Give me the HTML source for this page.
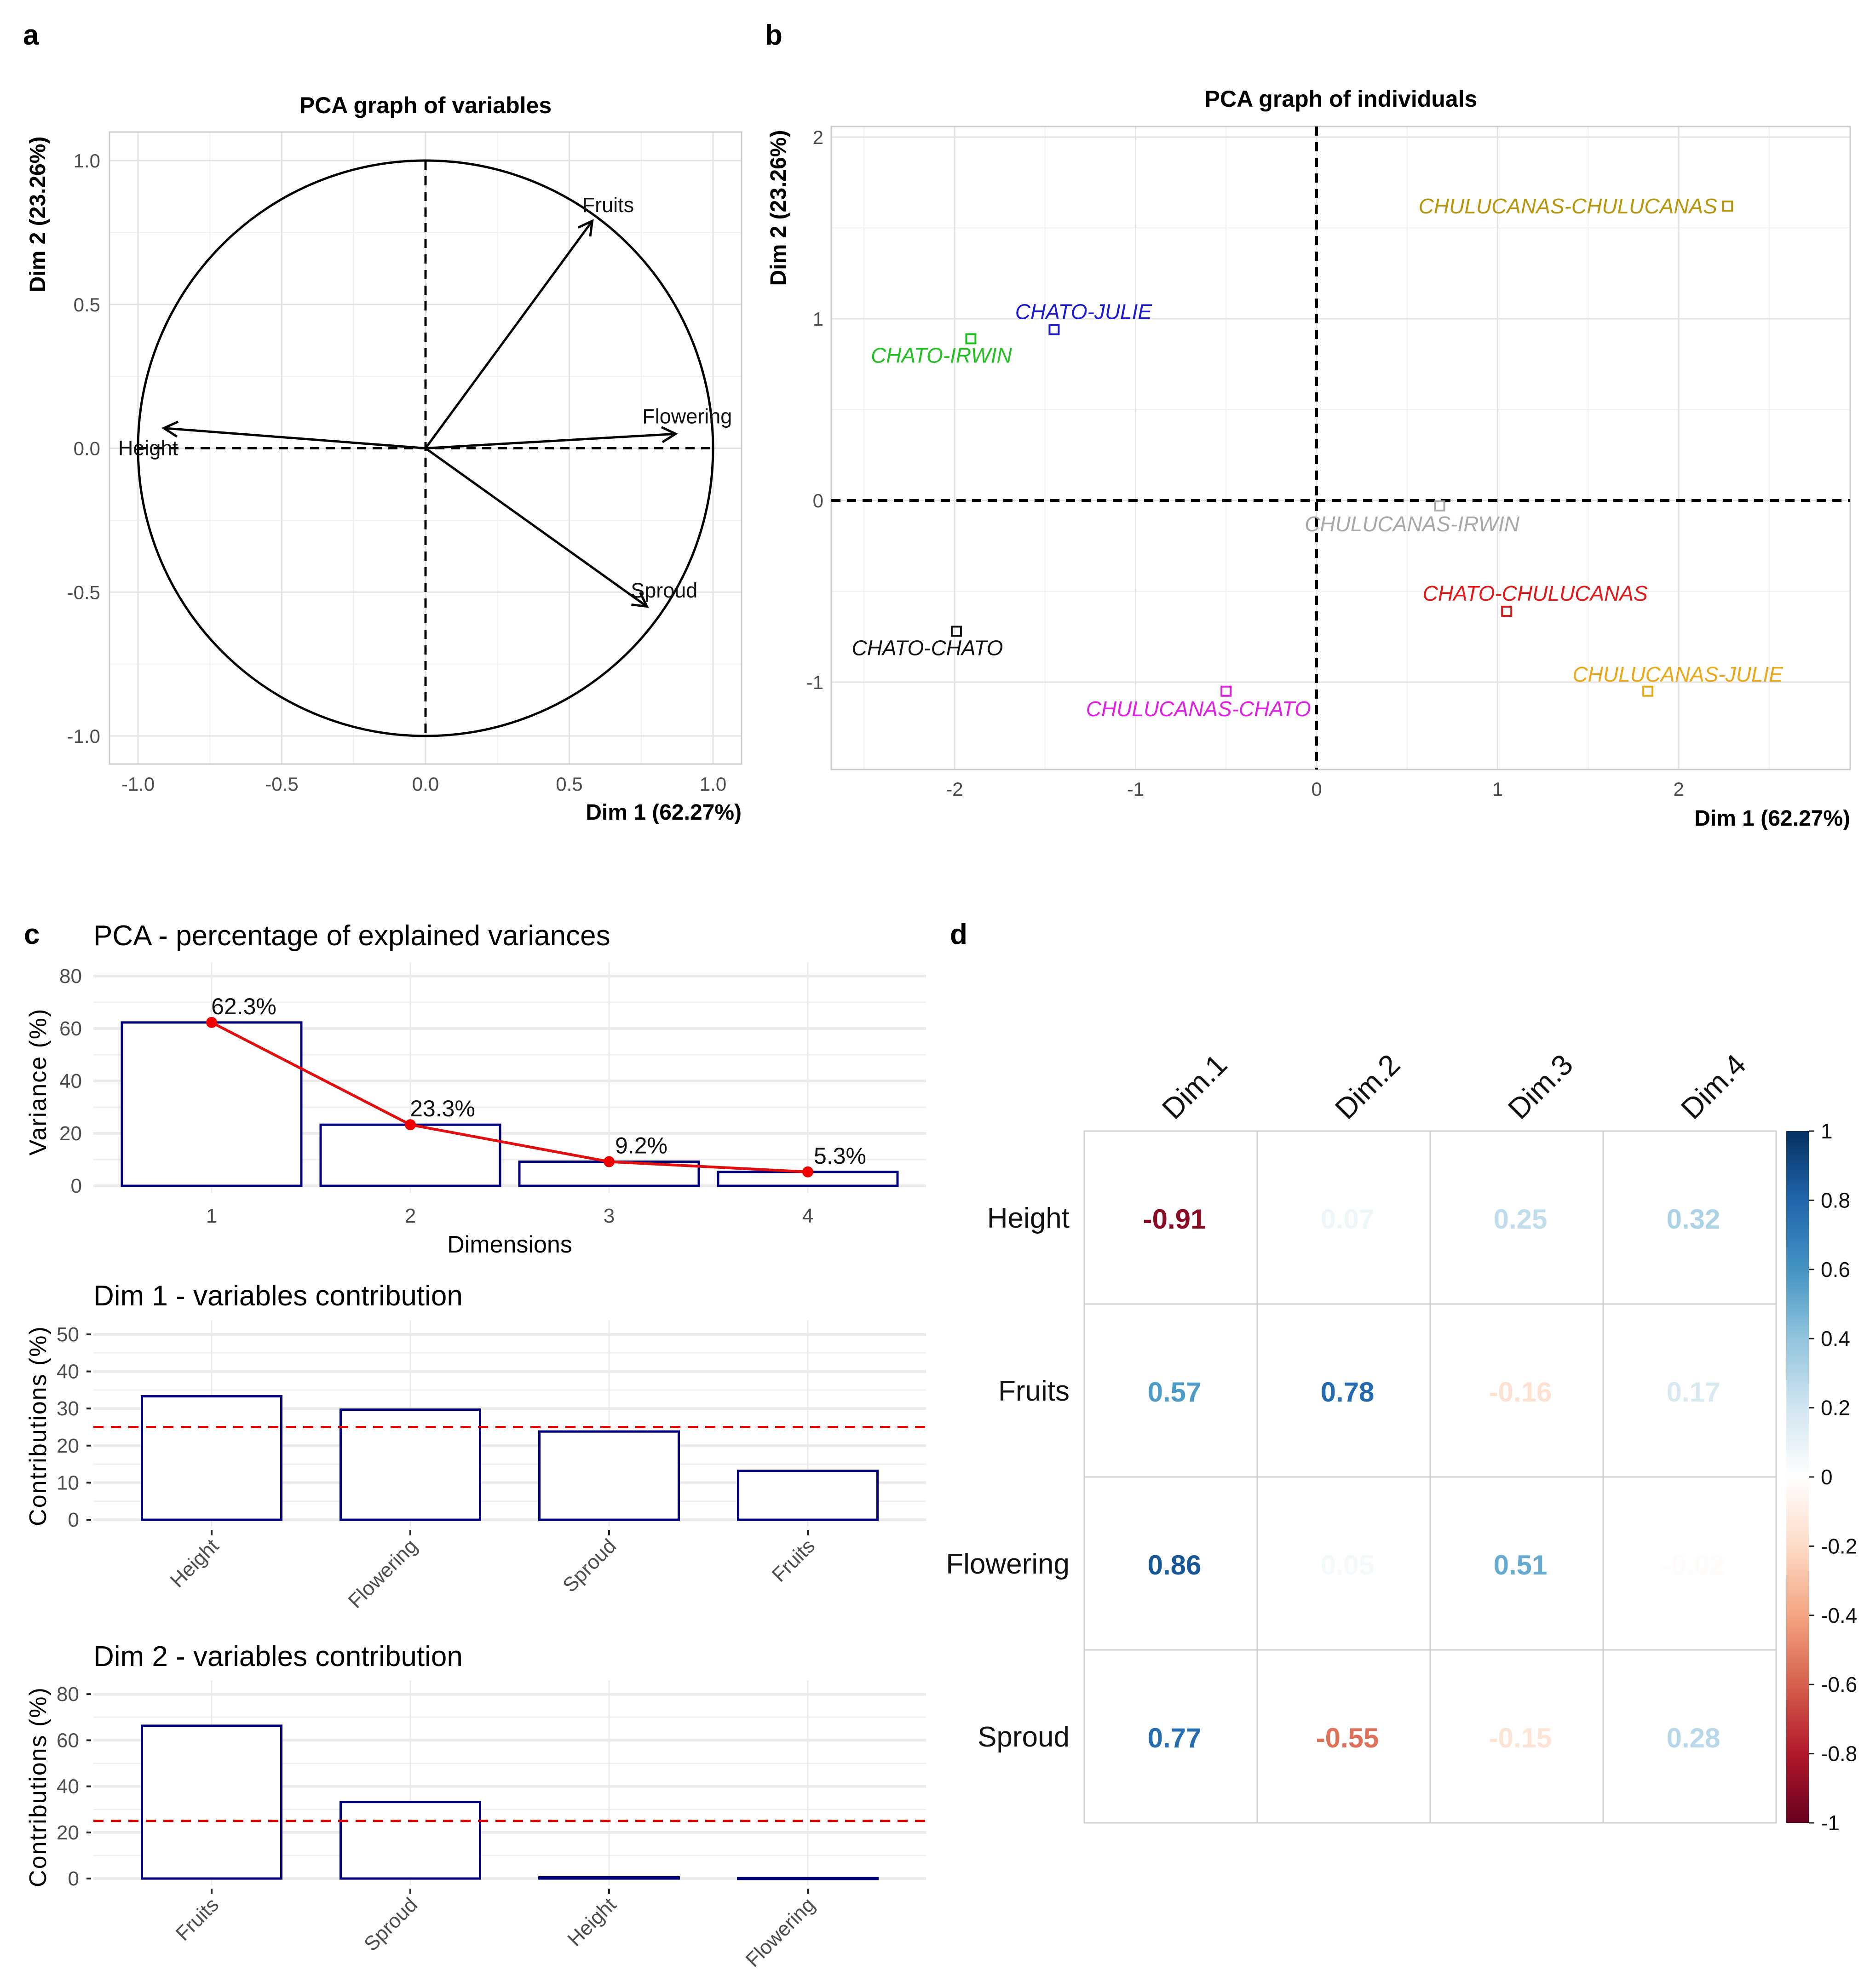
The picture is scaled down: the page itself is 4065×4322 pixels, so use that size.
<!DOCTYPE html>
<html><head><meta charset="utf-8"><style>
html,body{margin:0;padding:0;background:#fff;}
svg{display:block;font-family:"Liberation Sans",sans-serif;}
</style></head><body>
<svg id="fig" width="4065" height="4322" viewBox="0 0 4065 4322" xmlns="http://www.w3.org/2000/svg">
<rect x="0" y="0" width="4065" height="4322" fill="#fff"/>
<text x="50" y="97" font-size="62" font-weight="bold">a</text>
<text x="1663" y="97" font-size="62" font-weight="bold">b</text>
<text x="52" y="2052" font-size="62" font-weight="bold">c</text>
<text x="2065" y="2052" font-size="62" font-weight="bold">d</text>

<text x="925" y="246" font-size="50" font-weight="bold" text-anchor="middle">PCA graph of variables</text>
<text x="1612" y="1782" font-size="48" font-weight="bold" text-anchor="end">Dim 1 (62.27%)</text>
<text transform="translate(98,466) rotate(-90)" font-size="48" font-weight="bold" text-anchor="middle">Dim 2 (23.26%)</text>

<text x="2915" y="232" font-size="50" font-weight="bold" text-anchor="middle">PCA graph of individuals</text>
<text x="4022" y="1795" font-size="48" font-weight="bold" text-anchor="end">Dim 1 (62.27%)</text>
<text transform="translate(1708,452) rotate(-90)" font-size="48" font-weight="bold" text-anchor="middle">Dim 2 (23.26%)</text>

<text x="203" y="2055" font-size="62">PCA - percentage of explained variances</text>
<text x="1108" y="2723" font-size="52" text-anchor="middle">Dimensions</text>
<text transform="translate(100,2352) rotate(-90)" font-size="52" text-anchor="middle" letter-spacing="2">Variance (%)</text>

<text x="203" y="2838" font-size="62">Dim 1 - variables contribution</text>
<text transform="translate(100,3100) rotate(-90)" font-size="52" text-anchor="middle" letter-spacing="2">Contributions (%)</text>

<text x="203" y="3622" font-size="62">Dim 2 - variables contribution</text>
<text transform="translate(100,3885) rotate(-90)" font-size="52" text-anchor="middle" letter-spacing="2">Contributions (%)</text>

<g id="ga"></g>
<g id="gb"></g>
<g id="gc"></g>
<g id="gc1"></g>
<g id="gc2"></g>
<g id="gd"></g>
</svg>
<script>
// ---- Panel a data ----
const varNames = ["Fruits","Flowering","Height","Sproud"];
const varDim1 = [0.58, 0.87, -0.91, 0.77];
const varDim2 = [0.79, 0.05, 0.07, -0.55];
const aTicks = [-1.0,-0.5,0.0,0.5,1.0];
const aTickLabels = ["-1.0","-0.5","0.0","0.5","1.0"];
// ---- Panel b data ----
const indNames = ["CHULUCANAS-CHULUCANAS","CHATO-JULIE","CHATO-IRWIN","CHULUCANAS-IRWIN","CHATO-CHULUCANAS","CHATO-CHATO","CHULUCANAS-CHATO","CHULUCANAS-JULIE"];
const indDim1 = [2.27, -1.45, -1.91, 0.68, 1.05, -1.99, -0.50, 1.83];
const indDim2 = [1.62, 0.94, 0.89, -0.03, -0.61, -0.72, -1.05, -1.05];
const indColors = ["#b8960c","#1a1ad0","#22c022","#a8a8a8","#e01818","#111111","#e020e0","#e8a818"];
const bXTicks = [-2,-1,0,1,2];
const bYTicks = [-1,0,1,2];
// ---- Panel c data ----
const screeDims = ["1","2","3","4"];
const screeValues = [62.3, 23.3, 9.2, 5.3];
const screeLabels = ["62.3%","23.3%","9.2%","5.3%"];
const screeTicks = [0,20,40,60,80];
const c1Names = ["Height","Flowering","Sproud","Fruits"];
const c1Values = [33.3, 29.7, 23.8, 13.2];
const c1Ticks = [0,10,20,30,40,50];
const c2Names = ["Fruits","Sproud","Height","Flowering"];
const c2Values = [66.3, 33.2, 0.5, 0.2];
const c2Ticks = [0,20,40,60,80];
const contribRef = 25;
// ---- Panel d data ----
const corrRows = ["Height","Fruits","Flowering","Sproud"];
const corrCols = ["Dim.1","Dim.2","Dim.3","Dim.4"];
const corrVals = [
  [-0.91, 0.07, 0.25, 0.32],
  [0.57, 0.78, -0.16, 0.17],
  [0.86, 0.05, 0.51, -0.02],
  [0.77, -0.55, -0.15, 0.28]
];
const cbTicks = [1,0.8,0.6,0.4,0.2,0,-0.2,-0.4,-0.6,-0.8,-1];
const cbTickLabels = ["1","0.8","0.6","0.4","0.2","0","-0.2","-0.4","-0.6","-0.8","-1"];

const NS = "http://www.w3.org/2000/svg";
function mk(tag, attrs, parent){
  const e = document.createElementNS(NS, tag);
  for (const k in attrs) e.setAttribute(k, attrs[k]);
  parent.appendChild(e);
  return e;
}
function txt(str, attrs, parent){ const e = mk("text", attrs, parent); e.textContent = str; return e; }

// ================= Panel a =================
(function(){
  const g = document.getElementById("ga");
  const ax = v => 925 + v*625;
  const ay = v => 974.5 - v*625.5;
  const L=238, R=1612, T=287, B=1661;
  [-0.75,-0.25,0.25,0.75].forEach(v=>{
    let e = mk("line",{x1:ax(v),x2:ax(v),y1:T,y2:B,stroke:"#f0f0f0","stroke-width":2},g);
    
    
    e = mk("line",{x1:L,x2:R,y1:ay(v),y2:ay(v),stroke:"#f0f0f0","stroke-width":2},g);
    
    
  });
  aTicks.forEach((v,i)=>{
    let e = mk("line",{x1:ax(v),x2:ax(v),y1:T,y2:B,stroke:"#e3e3e3","stroke-width":3},g);
    
    
    e = mk("line",{x1:L,x2:R,y1:ay(v),y2:ay(v),stroke:"#e3e3e3","stroke-width":3},g);
    
    
    e = txt(aTickLabels[i],{x:ax(v),y:1719,"font-size":42,fill:"#4d4d4d","text-anchor":"middle"},g);
    
    
    e = txt(aTickLabels[i],{x:218,y:ay(v)+15,"font-size":42,fill:"#4d4d4d","text-anchor":"end"},g);
    
    
  });
  let fr = mk("rect",{x:L,y:T,width:R-L,height:B-T,fill:"none",stroke:"#cccccc","stroke-width":3},g);
  
  
  let c = mk("ellipse",{cx:ax(0),cy:ay(0),rx:625,ry:625.5,fill:"none",stroke:"#000","stroke-width":5},g);
  
  
  let d1 = mk("line",{x1:ax(-1),x2:ax(1),y1:ay(0),y2:ay(0),stroke:"#000","stroke-width":5,"stroke-dasharray":"20 14"},g);
  
  
  let d2 = mk("line",{x1:ax(0),x2:ax(0),y1:ay(1),y2:ay(-1),stroke:"#000","stroke-width":5,"stroke-dasharray":"20 14"},g);
  
  
  const labOff = {Fruits:[0.055,0.055],Flowering:[0.04,0.06],Height:[-0.055,-0.07],Sproud:[0.06,0.055]};
  varNames.forEach((n,i)=>{
    const x2=ax(varDim1[i]), y2=ay(varDim2[i]), x1=ax(0), y1=ay(0);
    const ang=Math.atan2(y2-y1,x2-x1), h=34;
    const p = `M${x1},${y1}L${x2},${y2}M${x2-h*Math.cos(ang-0.5)},${y2-h*Math.sin(ang-0.5)}L${x2},${y2}L${x2-h*Math.cos(ang+0.5)},${y2-h*Math.sin(ang+0.5)}`;
    const a = mk("path",{d:p,fill:"none",stroke:"#000","stroke-width":5},g);
    
    
    const o = labOff[n];
    const t = txt(n,{x:ax(varDim1[i]+o[0]),y:ay(varDim2[i]+o[1])+15,"font-size":45,"text-anchor":"middle",fill:"#111"},g);
    
    
  });
})();

// ================= Panel b =================
(function(){
  const g = document.getElementById("gb");
  const bx = v => 2862 + v*393.5;
  const by = v => 1088 - v*395;
  const L=1807, R=4022, T=275, B=1673;
  [-2.5,-1.5,-0.5,0.5,1.5,2.5].forEach(v=>{
    const e = mk("line",{x1:bx(v),x2:bx(v),y1:T,y2:B,stroke:"#f0f0f0","stroke-width":2},g);
    
    
  });
  [-0.5,0.5,1.5].forEach(v=>{
    const e = mk("line",{x1:L,x2:R,y1:by(v),y2:by(v),stroke:"#f0f0f0","stroke-width":2},g);
    
    
  });
  bXTicks.forEach(v=>{
    let e = mk("line",{x1:bx(v),x2:bx(v),y1:T,y2:B,stroke:"#e3e3e3","stroke-width":3},g);
    
    
    e = txt(String(v),{x:bx(v),y:1730,"font-size":42,fill:"#4d4d4d","text-anchor":"middle"},g);
    
    
  });
  bYTicks.forEach(v=>{
    let e = mk("line",{x1:L,x2:R,y1:by(v),y2:by(v),stroke:"#e3e3e3","stroke-width":3},g);
    
    
    e = txt(String(v),{x:1790,y:by(v)+15,"font-size":42,fill:"#4d4d4d","text-anchor":"end"},g);
    
    
  });
  let fr = mk("rect",{x:L,y:T,width:R-L,height:B-T,fill:"none",stroke:"#cccccc","stroke-width":3},g);
  
  
  let d1 = mk("line",{x1:L,x2:R,y1:by(0),y2:by(0),stroke:"#000","stroke-width":6,"stroke-dasharray":"20 14"},g);
  
  
  let d2 = mk("line",{x1:bx(0),x2:bx(0),y1:T,y2:B,stroke:"#000","stroke-width":6,"stroke-dasharray":"20 14"},g);
  
  
  // label offsets in px relative to point (label center x, baseline y)
  const off = [[-347,16],[64,-23],[-64,52],[-60,55],[62,-23],[-63,52],[-60,54],[65,-21]];
  indNames.forEach((n,i)=>{
    const x=bx(indDim1[i]), y=by(indDim2[i]);
    const p = mk("rect",{x:x-10,y:y-10,width:20,height:20,fill:"none",stroke:indColors[i],"stroke-width":4},g);
    
    
    const t = txt(n,{x:x+off[i][0],y:y+off[i][1],"font-size":46,"font-style":"italic","text-anchor":"middle",fill:indColors[i]},g);
    
    
  });
})();

// ================= Panel c helpers =================
function barPanel(g, names, values, ticks, minorTicks, y0, perUnit, barW, opts){
  const L=203, R=2013;
  const cx = i => 460 + i*432;
  const yv = v => y0 - v*perUnit;
  minorTicks.forEach(v=>{
    const e = mk("line",{x1:L,x2:R,y1:yv(v),y2:yv(v),stroke:"#f0f0f0","stroke-width":3},g);
    
    
  });
  ticks.forEach(v=>{
    let e = mk("line",{x1:L,x2:R,y1:yv(v),y2:yv(v),stroke:"#ebebeb","stroke-width":6},g);
    
    
    e = txt(String(v),{x:opts.ticks?172:178,y:yv(v)+15,"font-size":44,fill:"#4d4d4d","text-anchor":"end"},g);
    
    
    if (opts.ticks){
      e = mk("line",{x1:188,x2:198,y1:yv(v),y2:yv(v),stroke:"#222","stroke-width":4},g);
      
      
    }
  });
  const top = yv(ticks[ticks.length-1]) - 30;
  names.forEach((n,i)=>{
    let e = mk("line",{x1:cx(i),x2:cx(i),y1:top,y2:y0+15,stroke:"#ebebeb","stroke-width":3},g);
    
    
  });
  names.forEach((n,i)=>{
    const h = values[i]*perUnit;
    const b = mk("rect",{x:cx(i)-barW/2,y:y0-h,width:barW,height:Math.max(h,2),fill:"#fff",stroke:"#00007f","stroke-width":5},g);
    
    
    if (opts.ticks){
      let t = mk("line",{x1:cx(i),x2:cx(i),y1:y0+22,y2:y0+34,stroke:"#222","stroke-width":4},g);
      
      
      t = txt(n,{transform:`translate(${cx(i)+18},${y0+60}) rotate(-45)`,"font-size":44,fill:"#4d4d4d","text-anchor":"end"},g);
      
      
    } else {
      const t = txt(n,{x:cx(i),y:y0+80,"font-size":44,fill:"#4d4d4d","text-anchor":"middle"},g);
      
      
    }
  });
  if (opts.ref !== undefined){
    const r = mk("line",{x1:L,x2:R,y1:yv(opts.ref),y2:yv(opts.ref),stroke:"#e00000","stroke-width":5,"stroke-dasharray":"22 16"},g);
    
    
  }
  return {cx, yv};
}

// scree
(function(){
  const g = document.getElementById("gc");
  const s = barPanel(g, screeDims, screeValues, screeTicks, [10,30,50,70], 2578, 5.7, 390, {ticks:false});
  let d = "";
  screeValues.forEach((v,i)=>{ d += (i?"L":"M") + s.cx(i) + "," + s.yv(v); });
  const ln = mk("path",{d:d,fill:"none",stroke:"#e01010","stroke-width":6},g);
  
  
  screeValues.forEach((v,i)=>{
    const p = mk("circle",{cx:s.cx(i),cy:s.yv(v),r:12,fill:"#f00000"},g);
    
    
    const t = txt(screeLabels[i],{x:s.cx(i)+70,y:s.yv(v)-18,"font-size":50,"text-anchor":"middle",fill:"#111"},g);
    
    
  });
})();
barPanel(document.getElementById("gc1"), c1Names, c1Values, c1Ticks, [5,15,25,35,45], 3304, 8.06, 303, {ticks:true, ref:contribRef});
barPanel(document.getElementById("gc2"), c2Names, c2Values, c2Ticks, [10,30,50,70], 4084, 5.01, 303, {ticks:true, ref:contribRef});

// ================= Panel d =================
(function(){
  const g = document.getElementById("gd");
  const pal = ["#67001F","#B2182B","#D6604D","#F4A582","#FDDBC7","#FFFFFF","#D1E5F0","#92C5DE","#4393C3","#2166AC","#053061"];
  function hex(c){return [1,3,5].map(k=>parseInt(c.substr(k,2),16));}
  function col(v){
    const t = (v+1)/2*(pal.length-1);
    const i = Math.min(Math.floor(t), pal.length-2), f = t-i;
    const a=hex(pal[i]), b=hex(pal[i+1]);
    return "rgb("+a.map((x,k)=>Math.round(x+(b[k]-x)*f)).join(",")+")";
  }
  const L=2357, T=2459, S=376;
  corrRows.forEach((r,i)=>{
    const t = txt(r,{x:2325,y:T+S*i+S/2+22,"font-size":62,"text-anchor":"end",fill:"#111"},g);
    
    
    corrCols.forEach((c,j)=>{
      const cell = mk("rect",{x:L+S*j,y:T+S*i,width:S,height:S,fill:"#fff",stroke:"#d0d0d0","stroke-width":3},g);
      
      
      const v = corrVals[i][j];
      const tv = txt(v.toFixed(2),{x:L+S*j+S/2+8,y:T+S*i+S/2+24,"font-size":60,"font-weight":"bold","text-anchor":"middle",fill:col(v)},g);
      
      
    });
  });
  corrCols.forEach((c,j)=>{
    const t = txt(c,{transform:`translate(${L+S*j+S/2+8},${T-22}) rotate(-45)`,"font-size":64,fill:"#111"},g);
    
    
  });
  const defs = mk("defs",{},g);
  const lg = mk("linearGradient",{id:"cbgrad",x1:0,y1:0,x2:0,y2:1},defs);
  pal.slice().reverse().forEach((c,k)=>{ mk("stop",{offset:(k/(pal.length-1)),"stop-color":c},lg); });
  const CT=2459, CB=3963;
  const cb = mk("rect",{x:3883,y:CT,width:49,height:CB-CT,fill:"url(#cbgrad)"},g);
  
  
  cbTicks.forEach((v,k)=>{
    const y = CT + (1-v)/2*(CB-CT);
    let e = mk("line",{x1:3932,x2:3944,y1:y,y2:y,stroke:"#222","stroke-width":3},g);
    
    
    e = txt(cbTickLabels[k],{x:3958,y:y+16,"font-size":46,fill:"#111"},g);
    
    
  });
})();
</script>
</body></html>
